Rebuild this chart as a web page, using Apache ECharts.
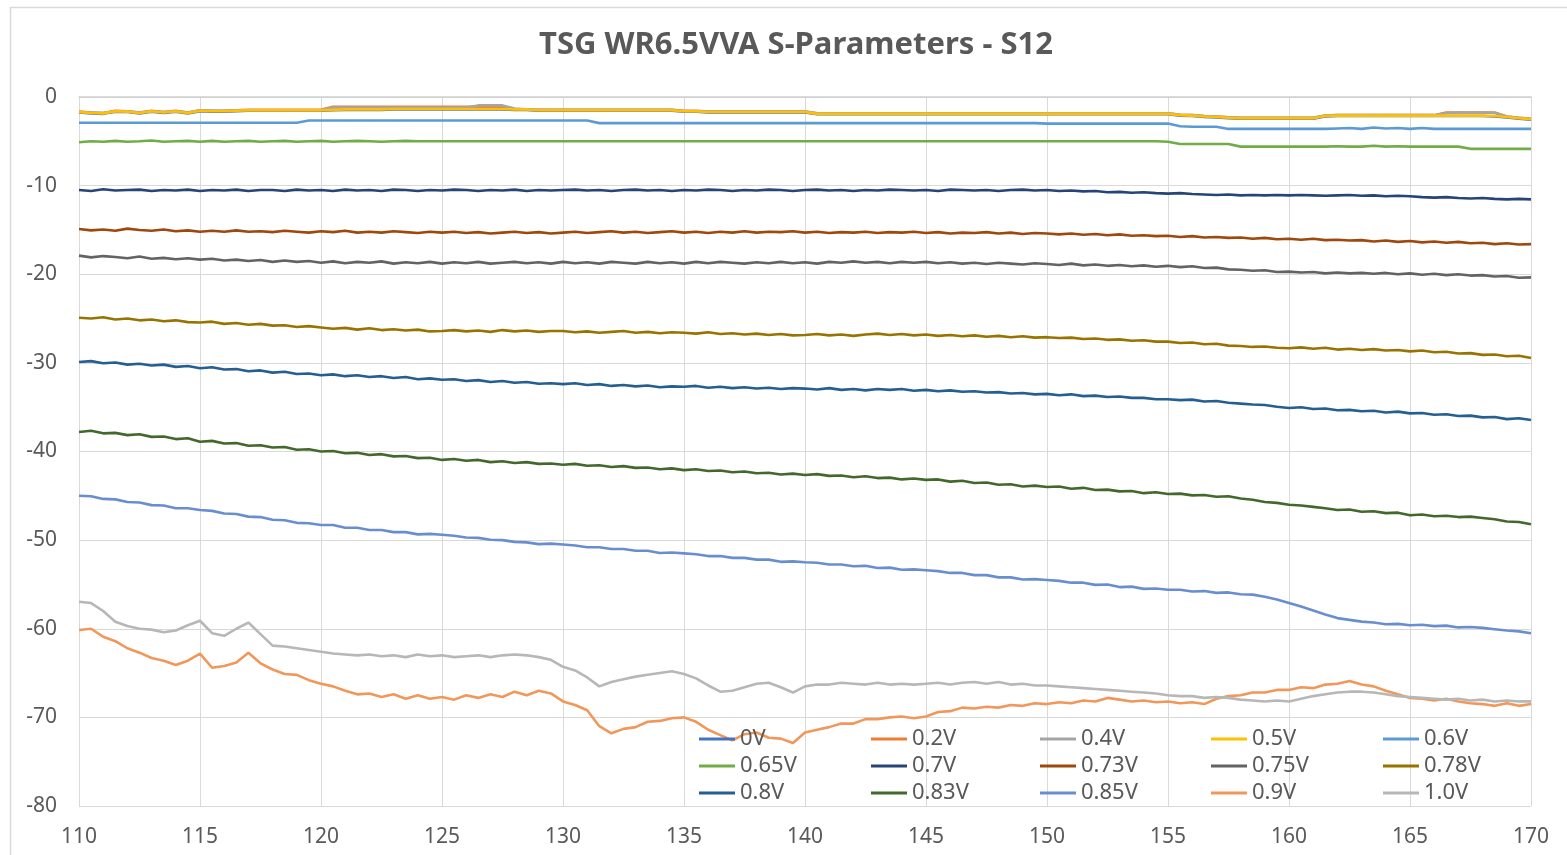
<!DOCTYPE html>
<html>
<head>
<meta charset="utf-8">
<script src="https://cdn.jsdelivr.net/npm/echarts@6/dist/echarts.min.js"></script>
<style>
html,body{margin:0;padding:0;background:#fff;}
#chart{width:1567px;height:855px;}
</style>
</head>
<body>
<div id="chart"></div>
<script>
// Frequency samples (GHz)
var FREQ = [
110,110.5,111,111.5,112,112.5,113,113.5,114,114.5,
115,115.5,116,116.5,117,117.5,118,118.5,119,119.5,
120,120.5,121,121.5,122,122.5,123,123.5,124,124.5,
125,125.5,126,126.5,127,127.5,128,128.5,129,129.5,
130,130.5,131,131.5,132,132.5,133,133.5,134,134.5,
135,135.5,136,136.5,137,137.5,138,138.5,139,139.5,
140,140.5,141,141.5,142,142.5,143,143.5,144,144.5,
145,145.5,146,146.5,147,147.5,148,148.5,149,149.5,
150,150.5,151,151.5,152,152.5,153,153.5,154,154.5,
155,155.5,156,156.5,157,157.5,158,158.5,159,159.5,
160,160.5,161,161.5,162,162.5,163,163.5,164,164.5,
165,165.5,166,166.5,167,167.5,168,168.5,169,169.5,
170];

var SERIES_NAMES = ['0V','0.2V','0.4V','0.5V','0.6V','0.65V','0.7V','0.73V','0.75V','0.78V','0.8V','0.83V','0.85V','0.9V','1.0V'];

var V_0_5 = [
-1.7,-1.8,-1.85,-1.6,-1.65,-1.8,-1.6,-1.75,-1.6,-1.8,
-1.55,-1.6,-1.6,-1.55,-1.5,-1.5,-1.5,-1.5,-1.5,-1.5,
-1.5,-1.45,-1.4,-1.4,-1.4,-1.4,-1.35,-1.35,-1.35,-1.35,
-1.35,-1.35,-1.35,-1.35,-1.35,-1.35,-1.4,-1.4,-1.5,-1.5,
-1.5,-1.5,-1.5,-1.5,-1.5,-1.5,-1.5,-1.5,-1.5,-1.5,
-1.6,-1.6,-1.7,-1.7,-1.7,-1.7,-1.7,-1.7,-1.7,-1.7,
-1.7,-1.9,-1.9,-1.9,-1.9,-1.9,-1.9,-1.9,-1.9,-1.9,
-1.9,-1.9,-1.9,-1.9,-1.9,-1.9,-1.9,-1.9,-1.9,-1.9,
-1.9,-1.9,-1.9,-1.9,-1.9,-1.9,-1.9,-1.9,-1.9,-1.9,
-1.9,-2.05,-2.1,-2.2,-2.25,-2.35,-2.4,-2.4,-2.4,-2.4,
-2.4,-2.4,-2.4,-2.15,-2.1,-2.1,-2.1,-2.1,-2.1,-2.1,
-2.1,-2.1,-2.1,-2.1,-2.1,-2.1,-2.1,-2.15,-2.25,-2.4,
-2.5];

var V_0 = [
-1.75,-1.85,-1.9,-1.65,-1.7,-1.85,-1.65,-1.8,-1.65,-1.85,
-1.6,-1.65,-1.65,-1.6,-1.55,-1.55,-1.55,-1.55,-1.55,-1.55,
-1.55,-1.5,-1.45,-1.45,-1.45,-1.45,-1.4,-1.4,-1.4,-1.4,
-1.4,-1.4,-1.4,-1.4,-1.4,-1.4,-1.45,-1.45,-1.55,-1.55,
-1.55,-1.55,-1.55,-1.55,-1.55,-1.55,-1.55,-1.55,-1.55,-1.55,
-1.65,-1.65,-1.75,-1.75,-1.75,-1.75,-1.75,-1.75,-1.75,-1.75,
-1.75,-1.95,-1.95,-1.95,-1.95,-1.95,-1.95,-1.95,-1.95,-1.95,
-1.95,-1.95,-1.95,-1.95,-1.95,-1.95,-1.95,-1.95,-1.95,-1.95,
-1.95,-1.95,-1.95,-1.95,-1.95,-1.95,-1.95,-1.95,-1.95,-1.95,
-1.95,-2.1,-2.15,-2.25,-2.3,-2.4,-2.45,-2.45,-2.45,-2.45,
-2.45,-2.45,-2.45,-2.2,-2.15,-2.15,-2.15,-2.15,-2.15,-2.15,
-2.15,-2.15,-2.15,-2.15,-2.15,-2.15,-2.15,-2.2,-2.3,-2.45,
-2.55];

var V_0_2 = [
-1.65,-1.75,-1.8,-1.55,-1.6,-1.75,-1.55,-1.7,-1.55,-1.75,
-1.5,-1.55,-1.55,-1.5,-1.45,-1.45,-1.45,-1.45,-1.45,-1.45,
-1.45,-1.1,-1.1,-1.1,-1.1,-1.1,-1.1,-1.1,-1.1,-1.1,
-1.1,-1.1,-1.1,-1.1,-1.1,-1.2,-1.35,-1.4,-1.45,-1.45,
-1.45,-1.45,-1.45,-1.45,-1.45,-1.45,-1.45,-1.45,-1.45,-1.45,
-1.55,-1.55,-1.65,-1.65,-1.65,-1.65,-1.65,-1.65,-1.65,-1.65,
-1.65,-1.85,-1.85,-1.85,-1.85,-1.85,-1.85,-1.85,-1.85,-1.85,
-1.85,-1.85,-1.85,-1.85,-1.85,-1.85,-1.85,-1.85,-1.85,-1.85,
-1.85,-1.85,-1.85,-1.85,-1.85,-1.85,-1.85,-1.85,-1.85,-1.85,
-1.85,-2.0,-2.05,-2.15,-2.2,-2.3,-2.35,-2.35,-2.35,-2.35,
-2.35,-2.35,-2.35,-2.1,-2.05,-2.05,-2.05,-2.05,-2.05,-2.05,
-2.05,-2.05,-2.05,-1.75,-1.75,-1.75,-1.75,-1.75,-2.2,-2.35,
-2.45];

var V_0_4 = [
-1.7,-1.75,-1.8,-1.6,-1.6,-1.75,-1.6,-1.7,-1.6,-1.75,
-1.5,-1.55,-1.55,-1.5,-1.5,-1.5,-1.5,-1.5,-1.5,-1.5,
-1.5,-1.2,-1.2,-1.2,-1.2,-1.2,-1.2,-1.2,-1.2,-1.2,
-1.2,-1.2,-1.2,-0.95,-0.95,-0.95,-1.3,-1.4,-1.45,-1.45,
-1.45,-1.45,-1.45,-1.45,-1.45,-1.45,-1.45,-1.45,-1.45,-1.45,
-1.6,-1.6,-1.65,-1.65,-1.65,-1.65,-1.65,-1.65,-1.65,-1.65,
-1.65,-1.85,-1.85,-1.85,-1.85,-1.85,-1.85,-1.85,-1.85,-1.85,
-1.85,-1.85,-1.85,-1.85,-1.85,-1.85,-1.85,-1.85,-1.85,-1.85,
-1.85,-1.85,-1.85,-1.85,-1.85,-1.85,-1.85,-1.85,-1.85,-1.85,
-1.85,-2.0,-2.05,-2.15,-2.2,-2.3,-2.35,-2.35,-2.35,-2.35,
-2.35,-2.35,-2.35,-2.1,-2.05,-2.05,-2.05,-2.05,-2.05,-2.05,
-2.05,-2.05,-2.05,-1.8,-1.75,-1.75,-1.75,-1.8,-2.2,-2.35,
-2.45];

var V_0_6 = [
-2.9,-2.9,-2.9,-2.9,-2.9,-2.9,-2.9,-2.9,-2.9,-2.9,
-2.9,-2.9,-2.9,-2.9,-2.9,-2.9,-2.9,-2.9,-2.9,-2.65,
-2.65,-2.65,-2.65,-2.65,-2.65,-2.65,-2.65,-2.65,-2.65,-2.65,
-2.65,-2.65,-2.65,-2.65,-2.65,-2.65,-2.65,-2.65,-2.65,-2.65,
-2.65,-2.65,-2.65,-2.95,-2.95,-2.95,-2.95,-2.95,-2.95,-2.95,
-2.95,-2.95,-2.95,-2.95,-2.95,-2.95,-2.95,-2.95,-2.95,-2.95,
-2.95,-2.95,-2.95,-2.95,-2.95,-2.95,-2.95,-2.95,-2.95,-2.95,
-2.95,-2.95,-2.95,-2.95,-2.95,-2.95,-2.95,-2.95,-2.95,-2.95,
-3.0,-3.0,-3.0,-3.0,-3.0,-3.0,-3.0,-3.0,-3.0,-3.0,
-3.0,-3.3,-3.35,-3.35,-3.35,-3.6,-3.6,-3.6,-3.6,-3.6,
-3.6,-3.6,-3.6,-3.6,-3.55,-3.5,-3.6,-3.45,-3.55,-3.5,
-3.6,-3.5,-3.6,-3.6,-3.6,-3.6,-3.6,-3.6,-3.6,-3.6,
-3.6];

var V_0_65 = [
-5.1,-5.0,-5.05,-4.95,-5.05,-5.0,-4.9,-5.05,-5.0,-4.95,
-5.05,-4.95,-5.05,-5.0,-4.95,-5.05,-5.0,-4.95,-5.05,-5.0,
-4.95,-5.05,-5.0,-4.95,-5.0,-5.05,-5.0,-4.95,-5.0,-5.0,
-5.0,-5.0,-5.0,-5.0,-5.0,-5.0,-5.0,-5.0,-5.0,-5.0,
-5.0,-5.0,-5.0,-5.0,-5.0,-5.0,-5.0,-5.0,-5.0,-5.0,
-5.0,-5.0,-5.0,-5.0,-5.0,-5.0,-5.0,-5.0,-5.0,-5.0,
-5.0,-5.0,-5.0,-5.0,-5.0,-5.0,-5.0,-5.0,-5.0,-5.0,
-5.0,-5.0,-5.0,-5.0,-5.0,-5.0,-5.0,-5.0,-5.0,-5.0,
-5.0,-5.0,-5.0,-5.0,-5.0,-5.0,-5.0,-5.0,-5.0,-5.0,
-5.05,-5.3,-5.3,-5.3,-5.3,-5.3,-5.6,-5.6,-5.6,-5.6,
-5.6,-5.6,-5.6,-5.6,-5.55,-5.6,-5.6,-5.5,-5.6,-5.55,
-5.6,-5.6,-5.6,-5.6,-5.6,-5.85,-5.85,-5.85,-5.85,-5.85,
-5.85];

var V_0_7 = [
-10.5,-10.6,-10.4,-10.55,-10.5,-10.45,-10.6,-10.5,-10.55,-10.45,
-10.6,-10.5,-10.55,-10.45,-10.6,-10.5,-10.5,-10.6,-10.45,-10.55,
-10.5,-10.6,-10.45,-10.55,-10.5,-10.6,-10.45,-10.5,-10.6,-10.5,
-10.55,-10.45,-10.5,-10.6,-10.5,-10.55,-10.45,-10.6,-10.5,-10.55,
-10.5,-10.45,-10.55,-10.5,-10.6,-10.5,-10.45,-10.55,-10.5,-10.6,
-10.5,-10.55,-10.45,-10.5,-10.6,-10.5,-10.55,-10.45,-10.5,-10.6,
-10.5,-10.45,-10.55,-10.5,-10.6,-10.5,-10.55,-10.45,-10.5,-10.55,
-10.5,-10.6,-10.45,-10.5,-10.55,-10.5,-10.6,-10.5,-10.45,-10.55,
-10.5,-10.6,-10.55,-10.65,-10.6,-10.75,-10.7,-10.8,-10.75,-10.85,
-10.9,-10.85,-10.95,-11.0,-11.05,-11.0,-11.1,-11.05,-11.1,-11.05,
-11.1,-11.05,-11.1,-11.15,-11.1,-11.05,-11.15,-11.1,-11.2,-11.15,
-11.2,-11.3,-11.35,-11.3,-11.4,-11.45,-11.4,-11.5,-11.55,-11.5,
-11.55];

var V_0_73 = [
-14.9,-15.05,-14.95,-15.1,-14.85,-15.0,-15.1,-14.95,-15.15,-15.05,
-15.2,-15.1,-15.2,-15.05,-15.2,-15.15,-15.25,-15.1,-15.2,-15.3,
-15.15,-15.25,-15.1,-15.3,-15.2,-15.3,-15.15,-15.25,-15.35,-15.2,
-15.3,-15.2,-15.35,-15.25,-15.4,-15.3,-15.2,-15.35,-15.25,-15.4,
-15.3,-15.2,-15.35,-15.25,-15.15,-15.3,-15.2,-15.35,-15.25,-15.15,
-15.3,-15.2,-15.35,-15.2,-15.3,-15.15,-15.3,-15.2,-15.25,-15.15,
-15.3,-15.2,-15.35,-15.25,-15.3,-15.2,-15.35,-15.25,-15.3,-15.2,
-15.35,-15.25,-15.4,-15.3,-15.35,-15.25,-15.4,-15.3,-15.45,-15.35,
-15.4,-15.5,-15.4,-15.55,-15.45,-15.6,-15.5,-15.65,-15.6,-15.7,
-15.65,-15.8,-15.7,-15.85,-15.8,-15.9,-15.85,-16.0,-15.9,-16.05,
-16.0,-16.1,-16.0,-16.15,-16.1,-16.2,-16.15,-16.3,-16.2,-16.35,
-16.25,-16.4,-16.3,-16.45,-16.35,-16.5,-16.45,-16.6,-16.5,-16.65,
-16.6];

var V_0_75 = [
-17.9,-18.1,-17.95,-18.05,-18.2,-18.0,-18.25,-18.15,-18.3,-18.2,
-18.35,-18.25,-18.45,-18.35,-18.5,-18.4,-18.6,-18.45,-18.6,-18.5,
-18.7,-18.55,-18.75,-18.6,-18.7,-18.55,-18.8,-18.65,-18.75,-18.6,
-18.8,-18.65,-18.75,-18.6,-18.8,-18.7,-18.6,-18.75,-18.65,-18.8,
-18.6,-18.75,-18.65,-18.8,-18.6,-18.7,-18.8,-18.6,-18.75,-18.65,
-18.8,-18.6,-18.75,-18.6,-18.7,-18.8,-18.65,-18.75,-18.6,-18.75,
-18.65,-18.8,-18.6,-18.7,-18.55,-18.7,-18.6,-18.75,-18.6,-18.7,
-18.6,-18.75,-18.65,-18.8,-18.7,-18.85,-18.7,-18.8,-18.9,-18.75,
-18.85,-18.95,-18.8,-19.0,-18.9,-19.05,-18.95,-19.1,-19.0,-19.15,
-19.05,-19.2,-19.1,-19.3,-19.25,-19.45,-19.5,-19.6,-19.55,-19.75,
-19.7,-19.8,-19.75,-19.9,-19.8,-19.9,-19.85,-19.95,-19.85,-20.0,
-19.9,-20.05,-19.95,-20.1,-20.0,-20.15,-20.1,-20.25,-20.2,-20.4,
-20.35];

var V_0_78 = [
-24.9,-25.0,-24.85,-25.1,-25.0,-25.2,-25.1,-25.3,-25.2,-25.4,
-25.45,-25.35,-25.6,-25.5,-25.7,-25.6,-25.8,-25.75,-25.95,-25.85,
-26.0,-26.15,-26.05,-26.25,-26.1,-26.3,-26.2,-26.35,-26.25,-26.45,
-26.4,-26.3,-26.45,-26.35,-26.5,-26.3,-26.45,-26.35,-26.5,-26.4,
-26.4,-26.55,-26.45,-26.6,-26.5,-26.4,-26.6,-26.5,-26.65,-26.55,
-26.6,-26.7,-26.55,-26.75,-26.65,-26.8,-26.7,-26.85,-26.75,-26.9,
-26.85,-26.75,-26.9,-26.8,-26.95,-26.8,-26.7,-26.85,-26.75,-26.9,
-26.8,-26.95,-26.85,-27.0,-26.9,-27.05,-26.95,-27.1,-27.0,-27.15,
-27.1,-27.2,-27.15,-27.3,-27.25,-27.4,-27.35,-27.5,-27.45,-27.6,
-27.6,-27.75,-27.7,-27.9,-27.85,-28.05,-28.1,-28.2,-28.15,-28.3,
-28.35,-28.25,-28.4,-28.3,-28.5,-28.4,-28.55,-28.45,-28.6,-28.55,
-28.7,-28.6,-28.8,-28.75,-28.95,-28.9,-29.1,-29.05,-29.25,-29.2,
-29.45];

var V_0_8 = [
-29.9,-29.8,-30.05,-29.95,-30.2,-30.1,-30.3,-30.2,-30.45,-30.35,
-30.6,-30.5,-30.75,-30.7,-30.95,-30.85,-31.1,-31.0,-31.25,-31.2,
-31.4,-31.3,-31.5,-31.4,-31.6,-31.5,-31.7,-31.6,-31.85,-31.75,
-31.9,-31.85,-32.05,-31.95,-32.15,-32.05,-32.25,-32.15,-32.35,-32.3,
-32.4,-32.3,-32.5,-32.4,-32.6,-32.5,-32.65,-32.55,-32.75,-32.65,
-32.7,-32.6,-32.8,-32.7,-32.85,-32.75,-32.9,-32.8,-32.95,-32.85,
-32.9,-33.0,-32.85,-33.05,-32.95,-33.1,-32.95,-33.05,-32.95,-33.15,
-33.05,-33.2,-33.1,-33.25,-33.2,-33.35,-33.3,-33.45,-33.4,-33.55,
-33.5,-33.65,-33.55,-33.75,-33.7,-33.85,-33.8,-33.95,-33.95,-34.1,
-34.1,-34.2,-34.15,-34.35,-34.3,-34.5,-34.6,-34.7,-34.75,-34.95,
-35.1,-35.0,-35.2,-35.15,-35.35,-35.3,-35.45,-35.4,-35.6,-35.5,
-35.7,-35.65,-35.85,-35.8,-36.0,-35.95,-36.15,-36.1,-36.35,-36.25,
-36.45];

var V_0_83 = [
-37.8,-37.65,-37.95,-37.9,-38.15,-38.05,-38.35,-38.3,-38.6,-38.5,
-38.9,-38.8,-39.1,-39.05,-39.35,-39.3,-39.55,-39.5,-39.8,-39.75,
-40.0,-39.95,-40.2,-40.15,-40.4,-40.3,-40.55,-40.5,-40.75,-40.7,
-40.95,-40.85,-41.05,-40.95,-41.2,-41.1,-41.3,-41.2,-41.4,-41.35,
-41.5,-41.4,-41.6,-41.55,-41.75,-41.65,-41.85,-41.8,-42.0,-41.9,
-42.1,-42.0,-42.2,-42.15,-42.35,-42.25,-42.45,-42.4,-42.6,-42.5,
-42.65,-42.55,-42.75,-42.7,-42.9,-42.8,-43.0,-42.95,-43.15,-43.05,
-43.2,-43.15,-43.4,-43.3,-43.55,-43.5,-43.75,-43.7,-43.95,-43.85,
-44.0,-43.95,-44.2,-44.1,-44.35,-44.3,-44.5,-44.45,-44.7,-44.6,
-44.8,-44.75,-44.95,-44.9,-45.1,-45.05,-45.3,-45.45,-45.7,-45.8,
-46.0,-46.1,-46.25,-46.4,-46.6,-46.55,-46.8,-46.75,-46.95,-46.9,
-47.2,-47.1,-47.3,-47.25,-47.4,-47.35,-47.5,-47.65,-47.9,-47.95,
-48.2];

var V_0_85 = [
-45.0,-45.05,-45.35,-45.4,-45.7,-45.75,-46.05,-46.1,-46.4,-46.4,
-46.6,-46.7,-47.0,-47.05,-47.35,-47.4,-47.7,-47.75,-48.05,-48.1,
-48.3,-48.3,-48.6,-48.6,-48.85,-48.85,-49.1,-49.1,-49.35,-49.3,
-49.4,-49.5,-49.7,-49.75,-49.95,-50.0,-50.2,-50.25,-50.45,-50.4,
-50.5,-50.6,-50.8,-50.8,-51.0,-51.0,-51.2,-51.2,-51.45,-51.4,
-51.5,-51.6,-51.8,-51.8,-52.0,-52.0,-52.2,-52.2,-52.45,-52.4,
-52.5,-52.55,-52.75,-52.75,-52.95,-52.9,-53.15,-53.1,-53.35,-53.3,
-53.4,-53.5,-53.7,-53.7,-53.95,-53.95,-54.2,-54.2,-54.45,-54.4,
-54.5,-54.6,-54.8,-54.8,-55.05,-55.0,-55.3,-55.25,-55.5,-55.45,
-55.6,-55.6,-55.8,-55.75,-55.95,-55.9,-56.1,-56.15,-56.4,-56.7,
-57.1,-57.5,-57.95,-58.4,-58.8,-59.0,-59.2,-59.3,-59.5,-59.45,
-59.6,-59.55,-59.7,-59.65,-59.85,-59.8,-59.9,-60.05,-60.2,-60.3,
-60.5];

var V_0_9 = [
-60.15,-60.0,-60.9,-61.4,-62.2,-62.7,-63.3,-63.6,-64.1,-63.6,
-62.8,-64.4,-64.2,-63.8,-62.7,-63.9,-64.6,-65.1,-65.2,-65.8,
-66.2,-66.5,-67.0,-67.4,-67.3,-67.7,-67.4,-67.9,-67.5,-67.9,
-67.7,-68.0,-67.5,-67.8,-67.4,-67.7,-67.1,-67.5,-67.0,-67.3,
-68.2,-68.6,-69.2,-71.0,-71.8,-71.3,-71.1,-70.5,-70.4,-70.1,
-70.0,-70.5,-71.4,-72.0,-72.6,-71.9,-71.7,-72.3,-72.4,-72.9,
-71.7,-71.4,-71.1,-70.7,-70.7,-70.2,-70.2,-70.0,-69.9,-70.1,
-69.9,-69.4,-69.3,-68.9,-69.0,-68.8,-68.9,-68.6,-68.7,-68.4,
-68.5,-68.3,-68.4,-68.1,-68.2,-67.8,-68.0,-68.2,-68.1,-68.3,
-68.2,-68.4,-68.3,-68.5,-67.9,-67.6,-67.5,-67.2,-67.2,-66.9,
-66.9,-66.6,-66.7,-66.3,-66.2,-65.9,-66.3,-66.5,-67.0,-67.4,
-67.8,-67.9,-68.1,-67.9,-68.2,-68.4,-68.5,-68.7,-68.4,-68.7,
-68.5];

var V_1_0 = [
-56.95,-57.1,-58.0,-59.2,-59.7,-60.0,-60.1,-60.4,-60.2,-59.6,
-59.1,-60.5,-60.8,-60.0,-59.3,-60.6,-61.9,-62.0,-62.2,-62.4,
-62.6,-62.8,-62.9,-63.0,-62.9,-63.1,-63.0,-63.2,-62.9,-63.1,
-63.0,-63.2,-63.1,-63.0,-63.2,-63.0,-62.9,-63.0,-63.2,-63.5,
-64.3,-64.7,-65.5,-66.5,-66.0,-65.7,-65.4,-65.2,-65.0,-64.8,
-65.1,-65.6,-66.4,-67.1,-67.0,-66.6,-66.2,-66.1,-66.6,-67.2,
-66.5,-66.3,-66.3,-66.1,-66.2,-66.3,-66.1,-66.3,-66.2,-66.3,
-66.2,-66.1,-66.3,-66.1,-66.0,-66.2,-66.0,-66.3,-66.2,-66.4,
-66.4,-66.5,-66.6,-66.7,-66.8,-66.9,-67.0,-67.1,-67.2,-67.3,
-67.5,-67.6,-67.6,-67.8,-67.7,-67.8,-68.0,-68.1,-68.2,-68.1,
-68.2,-67.9,-67.6,-67.4,-67.2,-67.1,-67.1,-67.2,-67.4,-67.6,
-67.7,-67.8,-67.9,-68.0,-67.9,-68.1,-68.0,-68.2,-68.1,-68.2,
-68.2];

var Y_TICKS = [0,-10,-20,-30,-40,-50,-60,-70,-80];
var X_TICKS = [110,115,120,125,130,135,140,145,150,155,160,165,170];

var VALUES = [V_0, V_0_2, V_0_4, V_0_5, V_0_6, V_0_65, V_0_7, V_0_73, V_0_75, V_0_78, V_0_8, V_0_83, V_0_85, V_0_9, V_1_0];
var COLORS = ['#4472C4','#ED7D31','#A5A5A5','#FFC000','#5B9BD5','#70AD47','#264478','#9E480E','#636363','#997300','#255E91','#43682B','#698ED0','#F1975A','#B7B7B7'];

var FONT = '"Noto Sans", "Open Sans", sans-serif';
var TXT = '#595959';

var series = SERIES_NAMES.map(function (name, k) {
  return {
    name: name,
    type: 'line',
    showSymbol: false,
    symbol: 'none',
    silent: true,
    lineStyle: { width: 2.6, color: COLORS[k] },
    itemStyle: { color: COLORS[k] },
    data: FREQ.map(function (f, i) { return [f, VALUES[k][i]]; })
  };
});

var legendCols = [
  ['0V','0.65V','0.8V'],
  ['0.2V','0.7V','0.83V'],
  ['0.4V','0.73V','0.85V'],
  ['0.5V','0.75V','0.9V'],
  ['0.6V','0.78V','1.0V']
];
var legendLeft = [699, 871, 1040, 1211, 1383];
var legends = legendCols.map(function (names, c) {
  return {
    data: names,
    orient: 'vertical',
    left: legendLeft[c],
    top: 728,
    padding: 0,
    itemGap: 5,
    itemWidth: 36,
    itemHeight: 3,
    icon: 'rect',
    selectedMode: false,
    textStyle: { fontFamily: FONT, fontSize: 22, color: TXT, lineHeight: 22 }
  };
});

var chart = echarts.init(document.getElementById('chart'), null, { renderer: 'canvas' });
chart.setOption({
  animation: false,
  backgroundColor: '#ffffff',
  title: {
    text: 'TSG WR6.5VVA S-Parameters - S12',
    left: 791,
    textAlign: 'center',
    top: 25,
    textStyle: { fontFamily: FONT, fontSize: 31, fontWeight: 'bold', color: TXT }
  },
  graphic: [{
    type: 'rect',
    shape: { x: 10.5, y: 7.5, width: 1600, height: 900 },
    style: { fill: 'none', stroke: '#D9D9D9', lineWidth: 1.5 },
    silent: true
  }],
  legend: legends,
  grid: { left: 79, right: 36, top: 97, bottom: 49, containLabel: false },
  xAxis: {
    type: 'value',
    min: 110, max: 170, interval: 5,
    axisLine: { show: true, lineStyle: { color: '#D0D0D0', width: 1.5 } },
    axisTick: { show: false },
    splitLine: { show: true, lineStyle: { color: '#D9D9D9', width: 1 } },
    axisLabel: {
      margin: 21, fontFamily: FONT, fontSize: 21, color: TXT,
      formatter: function (v) { return X_TICKS.indexOf(v) >= 0 ? String(v) : ''; }
    }
  },
  yAxis: {
    type: 'value',
    min: -80, max: 0, interval: 10,
    axisLine: { show: true, lineStyle: { color: '#D9D9D9', width: 1 } },
    axisTick: { show: false },
    splitLine: { show: true, lineStyle: { color: '#D9D9D9', width: 1 } },
    axisLabel: {
      margin: 22, fontFamily: FONT, fontSize: 21, color: TXT,
      formatter: function (v) { return Y_TICKS.indexOf(v) >= 0 ? String(v) : ''; }
    }
  },
  series: series
});
</script>
</body>
</html>
